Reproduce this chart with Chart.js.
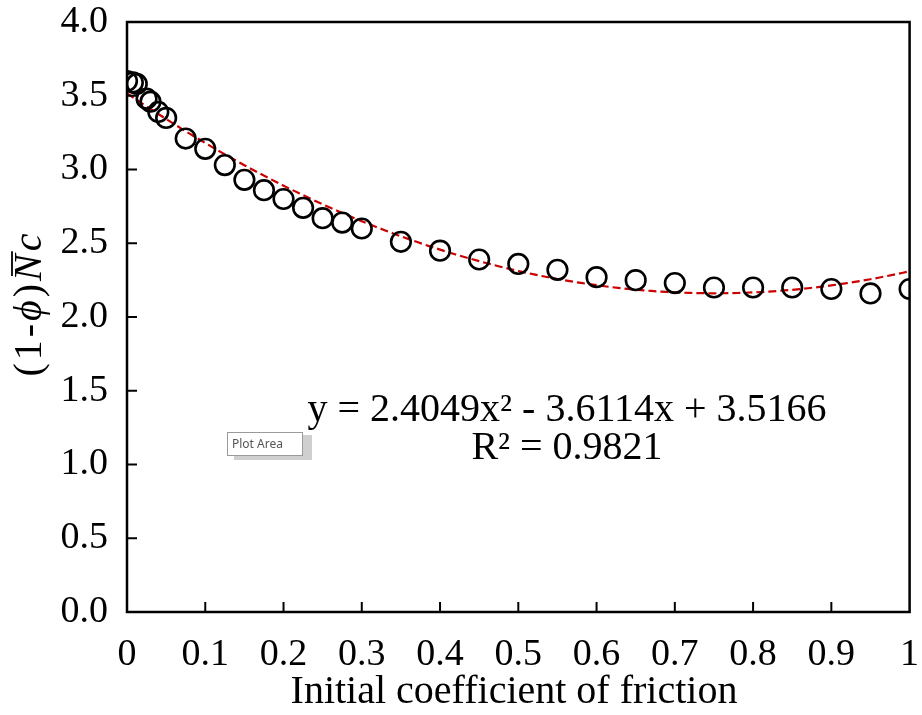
<!DOCTYPE html>
<html><head><meta charset="utf-8">
<script src="https://cdn.jsdelivr.net/npm/chart.js@4/dist/chart.umd.min.js"></script>
<style>html,body{margin:0;padding:0;background:#fff;}#wrap{width:922px;height:715px;position:relative;}</style>
</head><body><div id="wrap"><canvas id="c" width="922" height="715"></canvas></div>
<script>
// ---- data ----
const frictionValues = [0, 0.0075, 0.0125, 0.025, 0.03, 0.04, 0.05, 0.075, 0.1, 0.125, 0.15, 0.175, 0.2, 0.225, 0.25, 0.275, 0.3, 0.35, 0.4, 0.45, 0.5, 0.55, 0.6, 0.65, 0.7, 0.75, 0.8, 0.85, 0.9, 0.95, 1.0];
const ncValues = [3.60, 3.59, 3.58, 3.48, 3.46, 3.39, 3.35, 3.21, 3.14, 3.03, 2.93, 2.86, 2.80, 2.74, 2.67, 2.64, 2.60, 2.51, 2.45, 2.39, 2.36, 2.32, 2.27, 2.25, 2.23, 2.20, 2.20, 2.20, 2.19, 2.16, 2.19];
const trendCoefficients = [2.4049, -3.6114, 3.5166]; // y = a x^2 + b x + c (from chart label)
const xTickLabels = ['0', '0.1', '0.2', '0.3', '0.4', '0.5', '0.6', '0.7', '0.8', '0.9', '1'];
const yTickLabels = ['0.0', '0.5', '1.0', '1.5', '2.0', '2.5', '3.0', '3.5', '4.0'];
const xAxisTitle = 'Initial coefficient of friction';
const equationText = 'y = 2.4049x² - 3.6114x + 3.5166';
const r2Text = 'R² = 0.9821';
const tooltipText = 'Plot Area';

// trendline samples from the displayed equation
const trendX = [];
for (let i = 0; i <= 100; i++) trendX.push(i / 100);
const trendPoints = trendX.map(x => ({x, y: trendCoefficients[0]*x*x + trendCoefficients[1]*x + trendCoefficients[2]}));
const scatterPoints = frictionValues.map((x, i) => ({x, y: ncValues[i]}));

const SERIF = '"Liberation Serif", "Times New Roman", serif';

const decorPlugin = {
  id: 'decor',
  afterDatasetsDraw(chart) {
    const {ctx, chartArea: a, scales: {x, y}} = chart;
    ctx.save();
    // box
    ctx.strokeStyle = '#000'; ctx.lineWidth = 2.5;
    ctx.strokeRect(a.left, a.top, a.right - a.left, a.bottom - a.top);
    // inward ticks
    ctx.lineWidth = 2;
    x.ticks.forEach(t => { const px = x.getPixelForValue(t.value); if (px > a.left + 2 && px < a.right - 2) { ctx.beginPath(); ctx.moveTo(px, a.bottom); ctx.lineTo(px, a.bottom - 10); ctx.stroke(); } });
    y.ticks.forEach(t => { const py = y.getPixelForValue(t.value); if (py > a.top + 2 && py < a.bottom - 2) { ctx.beginPath(); ctx.moveTo(a.left, py); ctx.lineTo(a.left + 10, py); ctx.stroke(); } });
    // equation text
    ctx.fillStyle = '#000';
    ctx.font = '40px ' + SERIF;
    ctx.textAlign = 'center'; ctx.textBaseline = 'middle';
    ctx.fillText(equationText, 567, 410);
    ctx.fillText(r2Text, 567, 448);
    // x axis title
    ctx.fillText(xAxisTitle, 514, 692);
    // y axis title (1-φ)N̄c rotated
    ctx.save();
    ctx.translate(30, 305);
    ctx.rotate(-Math.PI / 2);
    ctx.textBaseline = 'middle'; ctx.textAlign = 'left';
    const fs = 40, gap = 3;
    const parts = [
      {t: '(', f: fs + 'px ' + SERIF},
      {t: '1', f: fs + 'px ' + SERIF},
      {t: '-', f: fs + 'px ' + SERIF},
      {t: 'ϕ', f: 'italic ' + fs + 'px ' + SERIF},
      {t: ')', f: fs + 'px ' + SERIF},
      {t: 'N', f: 'italic ' + fs + 'px ' + SERIF, over: true},
      {t: 'c', f: 'italic ' + fs + 'px ' + SERIF}
    ];
    let total = 0;
    parts.forEach(p => { ctx.font = p.f; p.w = ctx.measureText(p.t).width; total += p.w + gap; });
    total -= gap;
    let cx = -total / 2;
    ctx.fillStyle = '#000'; ctx.strokeStyle = '#000';
    parts.forEach(p => {
      ctx.font = p.f; ctx.fillText(p.t, cx, 0);
      if (p.over) { ctx.lineWidth = 1.8; ctx.beginPath(); ctx.moveTo(cx + 5, -18); ctx.lineTo(cx + p.w + 3, -18); ctx.stroke(); }
      cx += p.w + gap;
    });
    ctx.restore();
    // "Plot Area" tooltip
    ctx.fillStyle = '#cfcfcf';
    ctx.fillRect(234, 435, 78, 25);
    ctx.fillStyle = '#fff';
    ctx.fillRect(227, 432, 76, 24);
    ctx.strokeStyle = '#9a9a9a'; ctx.lineWidth = 1;
    ctx.strokeRect(227.5, 432.5, 75, 23);
    ctx.fillStyle = '#555';
    ctx.font = '12px "Noto Sans", sans-serif';
    ctx.textAlign = 'left'; ctx.textBaseline = 'middle';
    ctx.fillText(tooltipText, 232, 444.5);
    ctx.restore();
  }
};

new Chart(document.getElementById('c'), {
  type: 'scatter',
  data: {
    datasets: [
      {
        label: 'data', data: scatterPoints, order: 1,
        pointStyle: 'circle', pointRadius: 9.8, pointHoverRadius: 9.8,
        pointBorderColor: '#000', pointBackgroundColor: 'rgba(0,0,0,0)', pointBorderWidth: 2.6,
        showLine: false
      },
      {
        label: 'trend', data: trendPoints, order: 2, type: 'line',
        borderColor: '#cc0000', borderWidth: 2.2, borderDash: [8, 4],
        pointRadius: 0, fill: false, tension: 0
      }
    ]
  },
  options: {
    responsive: false, animation: false, devicePixelRatio: 1,
    layout: {padding: {top: 22, right: 11, left: 0, bottom: 0}},
    plugins: {legend: {display: false}, tooltip: {enabled: false}},
    events: [],
    scales: {
      x: {
        type: 'linear', min: 0, max: 1,
        grid: {display: false, drawTicks: false},
        border: {display: false},
        ticks: {stepSize: 0.1, padding: 20, color: '#000', font: {family: SERIF, size: 38}, maxRotation: 0, autoSkip: false,
          callback: (v) => { const i = Math.round(v * 10); return xTickLabels[i]; }},
        afterFit: (s) => { s.height = 103; s.paddingLeft = 0; s.paddingRight = 0; }
      },
      y: {
        type: 'linear', min: 0, max: 4,
        grid: {display: false, drawTicks: false},
        border: {display: false},
        ticks: {stepSize: 0.5, padding: 19, color: '#000', font: {family: SERIF, size: 38},
          callback: (v) => { const i = Math.round(v * 2); return yTickLabels[i]; }},
        afterFit: (s) => { s.width = 127; s.paddingTop = 0; s.paddingBottom = 0; }
      }
    }
  },
  plugins: [decorPlugin]
});
</script>
</body></html>
